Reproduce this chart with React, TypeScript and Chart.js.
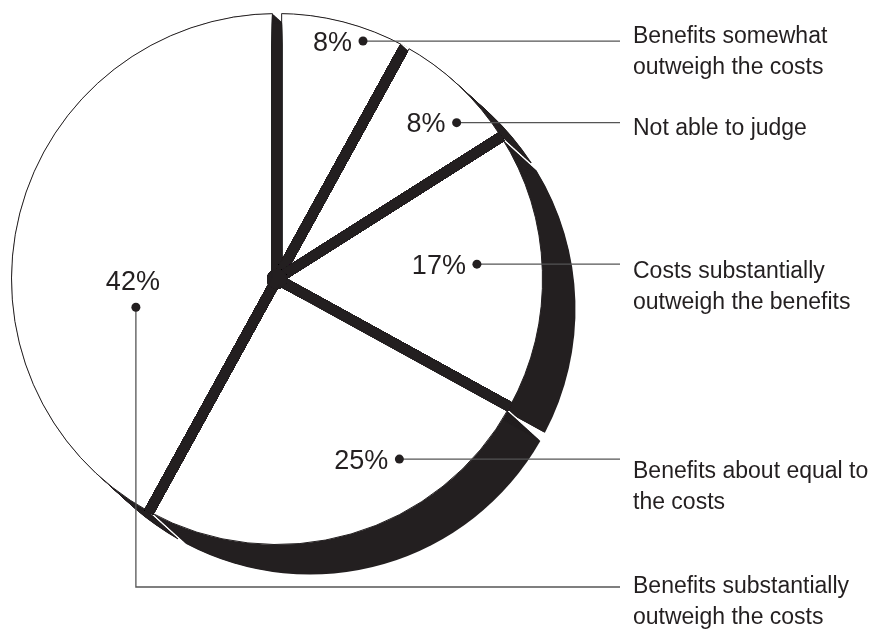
import React, { useEffect, useRef } from 'react';
import { Chart, registerables } from 'chart.js';

Chart.register(...registerables);

// ---- data ----
const categories = [
  'Benefits somewhat outweigh the costs',
  'Not able to judge',
  'Costs substantially outweigh the benefits',
  'Benefits about equal to the costs',
  'Benefits substantially outweigh the costs',
];
const legendLines = [
  ['Benefits somewhat', 'outweigh the costs'],
  ['Not able to judge'],
  ['Costs substantially', 'outweigh the benefits'],
  ['Benefits about equal to', 'the costs'],
  ['Benefits substantially', 'outweigh the costs'],
];
const shares = [8, 8, 17, 25, 42];
const percentLabels = shares.map((v) => `${v}%`);

// ---- styling / layout ----
const INK = '#231f20';
const LEADER = '#555555';
const FONT = '"Liberation Sans", Arial, Helvetica, sans-serif';
const EXTRUDE = [33, 30]; // depth direction of the 3-D slab (px)
const HALF_GAP = 4.75; // half of the separation between slices
const SOLID_GAP_INSET = 10; // gaps are solid dark up to R - this
// callout dot: fraction along slice angle, fraction of radius
const CALLOUT_ANGLE_FRAC = [0.69, 0.7, 0.46, 0.3, 0.33];
const CALLOUT_RADIUS_FRAC = [0.953, 0.897, 0.755, 0.82, 0.542];
const LEADER_END_X = 620;
const LEGEND_X = 633;
const LAST_ROW_Y = 587;
const LEGEND_BASELINE = [43, 135, 278, 478, 593];
const LINE_HEIGHT = 31;

type Geo = { x: number; y: number; R: number; a1: number; a2: number; ax: number; ay: number; q: number[][] };

function geoOf(el: any): Geo {
  const p = el.getProps(['x', 'y', 'startAngle', 'endAngle', 'outerRadius'], true);
  const a1 = p.startAngle, a2 = p.endAngle, R = p.outerRadius;
  const mid = (a1 + a2) / 2;
  const apexD = HALF_GAP / Math.sin((a2 - a1) / 2);
  const d = Math.asin(HALF_GAP / R);
  return {
    x: p.x,
    y: p.y,
    R,
    a1: a1 + d,
    a2: a2 - d,
    ax: p.x + Math.cos(mid) * apexD,
    ay: p.y + Math.sin(mid) * apexD,
    q: [
      [p.x + Math.cos(a1 + d) * R, p.y + Math.sin(a1 + d) * R],
      [p.x + Math.cos(a2 - d) * R, p.y + Math.sin(a2 - d) * R],
    ],
  };
}

function wedgePath(ctx: CanvasRenderingContext2D, g: Geo, dx: number, dy: number) {
  ctx.beginPath();
  ctx.moveTo(g.ax + dx, g.ay + dy);
  ctx.arc(g.x + dx, g.y + dy, g.R, g.a1, g.a2);
  ctx.closePath();
}

// dark slab of one slice = top face swept along EXTRUDE
function slabPieces(ctx: CanvasRenderingContext2D, g: Geo, act: () => void) {
  const [vx, vy] = EXTRUDE;
  g.q.forEach(([qx, qy]) => {
    ctx.beginPath();
    ctx.moveTo(g.ax, g.ay);
    ctx.lineTo(qx, qy);
    ctx.lineTo(qx + vx, qy + vy);
    ctx.lineTo(g.ax + vx, g.ay + vy);
    ctx.closePath();
    act();
  });
  const steps = Math.ceil(Math.hypot(vx, vy));
  for (let s = 0; s <= steps; s++) {
    const t = s / steps;
    wedgePath(ctx, g, vx * t, vy * t);
    act();
  }
}

function drawSlab(ctx: CanvasRenderingContext2D, g: Geo, halo: boolean) {
  if (halo) {
    ctx.strokeStyle = '#ffffff';
    ctx.lineWidth = 2.5;
    slabPieces(ctx, g, () => ctx.stroke());
  }
  ctx.fillStyle = INK;
  slabPieces(ctx, g, () => ctx.fill());
}

function backToFront(els: any[]): Geo[] {
  const [vx, vy] = EXTRUDE;
  return els
    .map((el) => geoOf(el))
    .map((g) => {
      const mid = (g.a1 + g.a2) / 2;
      return { g, depth: Math.cos(mid) * vx + Math.sin(mid) * vy };
    })
    .sort((a, b) => a.depth - b.depth)
    .map((o) => o.g);
}

export default function App() {
  const ref = useRef<HTMLCanvasElement>(null);

  useEffect(() => {
    const canvas = ref.current;
    if (!canvas) return;

    const piePlugin = {
      id: 'pieDecor',
      beforeDatasetsDraw(chart: any) {
        const els = chart.getDatasetMeta(0).data;
        const ctx = chart.ctx as CanvasRenderingContext2D;
        ctx.save();
        backToFront(els).forEach((g) => drawSlab(ctx, g, true));
        ctx.restore();
      },
      afterDatasetsDraw(chart: any) {
        const els = chart.getDatasetMeta(0).data;
        const ctx = chart.ctx as CanvasRenderingContext2D;
        const c = els[0].getProps(['x', 'y', 'outerRadius'], true);
        const ordered = backToFront(els);

        // gaps between slices: the dark slab shows through
        const regions: ((g: CanvasRenderingContext2D) => void)[] = [];
        els.forEach((el: any) => {
          const a = el.getProps(['startAngle'], true).startAngle;
          const ux = Math.cos(a), uy = Math.sin(a);
          const nx = -uy, ny = ux;
          const h = HALF_GAP + 0.3;
          const L = c.outerRadius + 2;
          regions.push((g) => {
            g.moveTo(c.x + nx * h, c.y + ny * h);
            g.lineTo(c.x + nx * h + ux * L, c.y + ny * h + uy * L);
            g.lineTo(c.x - nx * h + ux * L, c.y - ny * h + uy * L);
            g.lineTo(c.x - nx * h, c.y - ny * h);
            g.closePath();
          });
        });
        regions.push((g) => {
          g.moveTo(c.x + 10, c.y);
          g.arc(c.x, c.y, 10, 0, Math.PI * 2);
        });

        regions.forEach((path) => {
          ctx.save();
          ctx.beginPath();
          path(ctx);
          ctx.clip();
          ctx.beginPath();
          ctx.arc(c.x, c.y, c.outerRadius + 0.6, 0, Math.PI * 2);
          ctx.clip();
          ctx.fillStyle = '#ffffff';
          ctx.fillRect(0, 0, chart.width, chart.height);
          ordered.forEach((g) => drawSlab(ctx, g, false));
          ctx.fillStyle = INK;
          ctx.beginPath();
          ctx.arc(c.x, c.y, c.outerRadius - SOLID_GAP_INSET, 0, Math.PI * 2);
          ctx.fill();
          ctx.strokeStyle = INK;
          ctx.lineWidth = 1;
          ordered.forEach((g) => {
            wedgePath(ctx, g, 0, 0);
            ctx.stroke();
          });
          ctx.restore();
        });

        ctx.save();
        // callouts
        els.forEach((el: any, i: number) => {
          const p = el.getProps(['x', 'y', 'startAngle', 'endAngle', 'outerRadius'], true);
          const a = p.startAngle + CALLOUT_ANGLE_FRAC[i] * (p.endAngle - p.startAngle);
          const r = CALLOUT_RADIUS_FRAC[i] * p.outerRadius;
          const dx = p.x + Math.cos(a) * r;
          const dy = p.y + Math.sin(a) * r;
          const last = i === els.length - 1;

          ctx.strokeStyle = LEADER;
          ctx.lineWidth = 1.3;
          ctx.beginPath();
          ctx.moveTo(dx, dy);
          if (last) {
            ctx.lineTo(dx, LAST_ROW_Y);
            ctx.lineTo(LEADER_END_X, LAST_ROW_Y);
          } else {
            ctx.lineTo(LEADER_END_X, dy);
          }
          ctx.stroke();

          ctx.fillStyle = INK;
          ctx.beginPath();
          ctx.arc(dx, dy, 4.5, 0, Math.PI * 2);
          ctx.fill();

          ctx.font = `27px ${FONT}`;
          ctx.textBaseline = 'alphabetic';
          if (last) {
            ctx.textAlign = 'center';
            ctx.fillText(percentLabels[i], dx - 3, dy - 17);
          } else {
            ctx.textAlign = 'right';
            ctx.fillText(percentLabels[i], dx - 11, dy + 9.5);
          }

          ctx.font = `23px ${FONT}`;
          ctx.textAlign = 'left';
          legendLines[i].forEach((line, k) => {
            ctx.fillText(line, LEGEND_X, LEGEND_BASELINE[i] + k * LINE_HEIGHT);
          });
        });
        ctx.restore();
      },
    };

    const chart = new Chart(canvas, {
      type: 'pie',
      data: {
        labels: categories,
        datasets: [
          {
            data: shares,
            backgroundColor: '#ffffff',
            borderColor: INK,
            borderWidth: 1,
            hoverOffset: 0,
          },
        ],
      },
      options: {
        responsive: false,
        animation: false,
        events: [],
        layout: { padding: { left: 11, top: 13, right: 331, bottom: 84 } },
        plugins: {
          legend: { display: false },
          tooltip: { enabled: false },
        },
      },
      plugins: [piePlugin],
    });

    return () => chart.destroy();
  }, []);

  return (
    <div style={{ position: 'fixed', left: 0, top: 0, width: 874, height: 629, background: '#ffffff' }}>
      <canvas ref={ref} width={874} height={629} style={{ display: 'block' }} />
    </div>
  );
}
